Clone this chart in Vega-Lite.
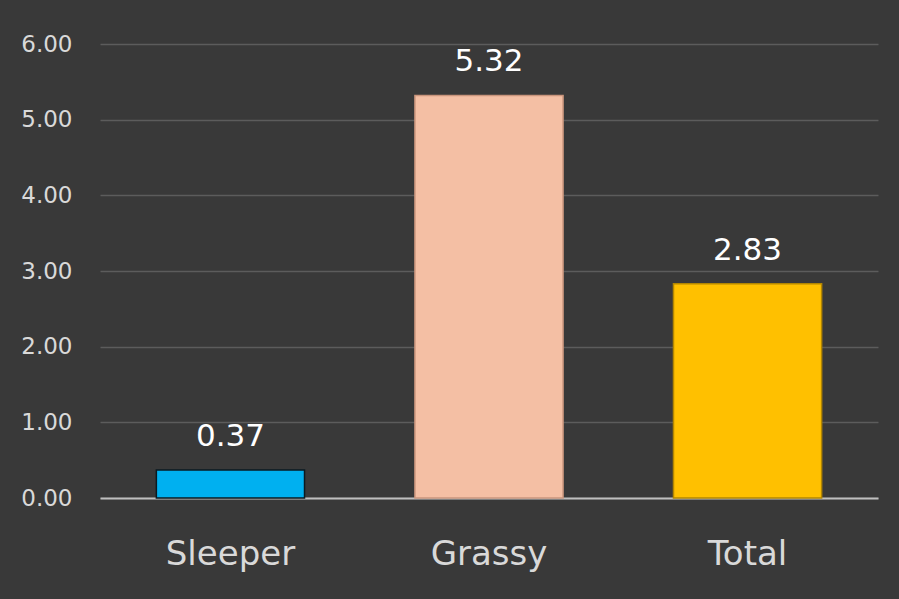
{
  "$schema": "https://vega.github.io/schema/vega-lite/v6.json",
  "width": 778,
  "height": 454,
  "autosize": {"type": "none"},
  "padding": {"left": 100, "top": 44, "right": 21, "bottom": 101},
  "background": "#393939",
  "data": {"values": [
    {"category": "Sleeper", "value": 0.37, "label": "0.37"},
    {"category": "Grassy", "value": 5.32, "label": "5.32"},
    {"category": "Total", "value": 2.83, "label": "2.83"}
  ]},
  "encoding": {
    "x": {"field": "category", "type": "nominal", "sort": null,
      "scale": {"paddingInner": 0.427, "paddingOuter": 0.218},
      "axis": {"title": null, "labelAngle": 0, "ticks": false, "domain": true,
        "domainColor": "#bfbfbf", "domainWidth": 2, "labelFont": "DejaVu Sans",
        "labelFontSize": 34, "labelColor": "#d9d9d9", "labelPadding": 39}},
    "y": {"field": "value", "type": "quantitative",
      "scale": {"domain": [0, 6]},
      "axis": {"title": null, "values": [0, 1, 2, 3, 4, 5, 6], "format": ".2f",
        "ticks": false, "domain": false, "grid": true, "gridColor": "#5c5c5c",
        "gridWidth": 1.5, "labelFont": "DejaVu Sans", "labelFontSize": 23,
        "labelColor": "#d9d9d9", "labelPadding": 28}}
  },
  "layer": [
    {
      "mark": {"type": "bar", "strokeWidth": 1.5},
      "encoding": {
        "color": {"field": "category", "type": "nominal", "legend": null,
          "scale": {"domain": ["Sleeper", "Grassy", "Total"], "range": ["#00B0F0", "#F4BFA4", "#FFC000"]}},
        "stroke": {"field": "category", "type": "nominal", "legend": null,
          "scale": {"domain": ["Sleeper", "Grassy", "Total"], "range": ["#0a1a22", "#c9957c", "#b38600"]}}
      }
    },
    {
      "mark": {"type": "text", "baseline": "alphabetic", "dy": -24, "font": "DejaVu Sans",
        "fontSize": 31, "fontWeight": 500, "color": "#ffffff"},
      "encoding": {"text": {"field": "label"}}
    }
  ],
  "config": {"view": {"stroke": null}}
}
